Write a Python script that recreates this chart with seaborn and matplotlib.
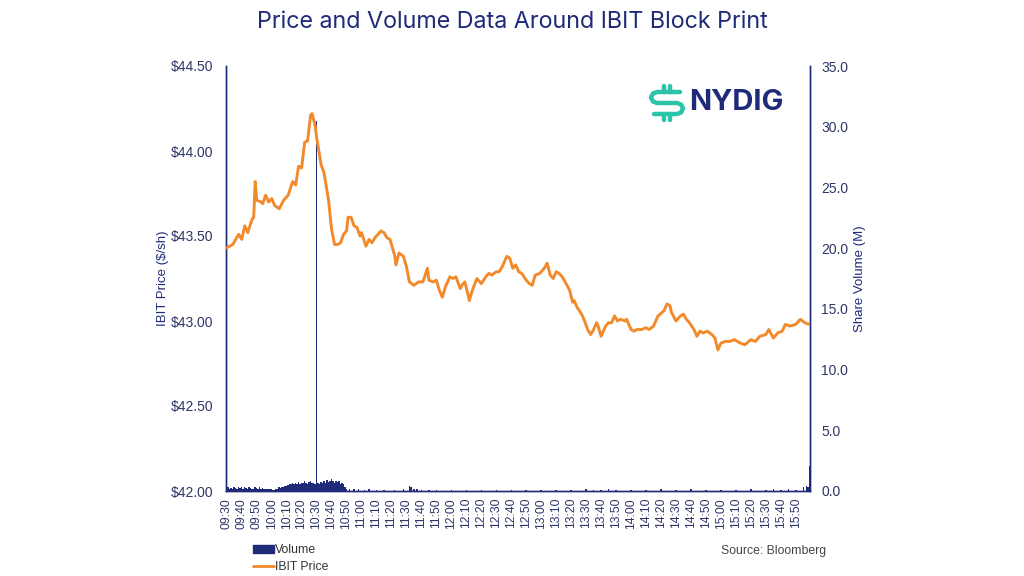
import numpy as np
import pandas as pd
import seaborn as sns
import matplotlib
matplotlib.use("Agg")
import matplotlib.pyplot as plt
from matplotlib.lines import Line2D
from matplotlib.patches import Patch

# ---------------- data ----------------
# minutes after 09:30
price_minutes = [0, 4, 8, 10, 12, 14, 17, 18, 19, 20, 23, 24, 26, 28, 30, 32, 35, 38, 41, 44,
                 46, 48, 50, 52, 54, 56, 57, 59, 60, 63, 65, 68, 70, 72, 74, 76, 78, 80, 81, 83,
                 85, 87, 89, 90, 93, 95, 97, 99, 103, 105, 107, 109, 112, 113, 115, 118, 120, 122, 125, 128,
                 131, 134, 135, 138, 140, 142, 144, 146, 149, 151, 153, 156, 157, 159, 161, 162, 164, 167, 170, 173,
                 175, 177, 180, 182, 184, 187, 189, 191, 193, 195, 197, 200, 202, 204, 206, 209, 212, 214, 216, 218,
                 220, 222, 224, 226, 229, 231, 232, 234, 237, 239, 241, 243, 245, 247, 248, 250, 253, 255, 257, 259,
                 261, 263, 266, 267, 270, 272, 274, 277, 280, 282, 285, 288, 292, 294, 296, 297, 300, 303, 305, 307,
                 309, 312, 314, 316, 318, 321, 324, 326, 328, 330, 333, 336, 339, 343, 346, 350, 353, 356, 360, 362,
                 365, 368, 371, 373, 376, 380, 383, 386, 389]
price_values = [43.43, 43.45, 43.51, 43.48, 43.56, 43.52, 43.60, 43.61, 43.82, 43.71, 43.70, 43.69, 43.74, 43.70, 43.72, 43.68, 43.66, 43.71, 43.74, 43.82,
                43.80, 43.91, 43.90, 44.05, 44.06, 44.21, 44.22, 44.15, 44.08, 43.92, 43.87, 43.71, 43.54, 43.45, 43.45, 43.46, 43.51, 43.53, 43.61, 43.61,
                43.56, 43.55, 43.50, 43.52, 43.44, 43.48, 43.46, 43.49, 43.53, 43.52, 43.49, 43.48, 43.39, 43.33, 43.40, 43.38, 43.32, 43.23, 43.21, 43.23,
                43.23, 43.31, 43.24, 43.23, 43.24, 43.18, 43.14, 43.20, 43.26, 43.25, 43.26, 43.19, 43.21, 43.23, 43.16, 43.12, 43.18, 43.25, 43.22, 43.26,
                43.28, 43.27, 43.29, 43.29, 43.32, 43.38, 43.37, 43.31, 43.33, 43.29, 43.28, 43.24, 43.22, 43.21, 43.27, 43.28, 43.31, 43.34, 43.27, 43.25,
                43.29, 43.28, 43.26, 43.23, 43.18, 43.11, 43.12, 43.08, 43.04, 43.00, 42.95, 42.92, 42.95, 42.99, 42.97, 42.91, 42.97, 42.99, 42.99, 43.03,
                43.00, 43.01, 43.00, 43.01, 42.95, 42.94, 42.95, 42.95, 42.96, 42.95, 42.97, 43.03, 43.06, 43.10, 43.09, 43.05, 43.00, 43.03, 43.04, 43.01,
                42.99, 42.95, 42.91, 42.94, 42.93, 42.94, 42.92, 42.90, 42.83, 42.87, 42.88, 42.88, 42.89, 42.87, 42.86, 42.89, 42.88, 42.91, 42.92, 42.95,
                42.90, 42.93, 42.94, 42.98, 42.97, 42.98, 43.01, 42.99, 42.98]

volume_minutes = list(range(0, 81)) + [82, 85, 88, 92, 95, 100, 105, 112, 118, 122, 123, 125, 127, 130, 135, 140, 150,
                                       160, 170, 180, 190, 200, 210, 220, 230, 240, 245, 250, 255, 260, 270, 280, 290,
                                       300, 310, 320, 330, 340, 350, 360, 365, 370, 375, 380, 385, 387, 388, 389]
volume_values = [1.0, 0.3, 0.2, 0.25, 0.2, 0.3, 0.25, 0.2, 0.3, 0.25, 0.35, 0.2, 0.3, 0.25, 0.2, 0.3, 0.25, 0.2, 0.2, 0.3,
                 0.25, 0.2, 0.3, 0.2, 0.25, 0.2, 0.2, 0.15, 0.2, 0.2, 0.15, 0.1, 0.1, 0.15, 0.15, 0.3, 0.25, 0.35, 0.3, 0.45,
                 0.4, 0.5, 0.55, 0.6, 0.7, 0.55, 0.65, 0.6, 0.75, 0.6, 0.7, 0.65, 0.8, 0.7, 0.6, 0.75, 0.85, 0.7, 0.65, 0.6,
                 30.5, 0.7, 0.6, 0.75, 0.65, 0.8, 0.7, 0.9, 0.75, 0.85, 0.95, 0.8, 0.7, 0.85, 0.75, 0.8, 0.6, 0.65, 0.55, 0.3,
                 0.15,
                 0.2, 0.15, 0.15, 0.1, 0.15, 0.1, 0.1, 0.1, 0.15, 0.4, 0.3, 0.2, 0.15, 0.1, 0.1, 0.1, 0.1,
                 0.1, 0.1, 0.1, 0.1, 0.1, 0.1, 0.1, 0.1, 0.15, 0.1, 0.1, 0.15, 0.1, 0.1, 0.1, 0.15,
                 0.1, 0.15, 0.1, 0.1, 0.1, 0.15, 0.1, 0.15, 0.1, 0.15, 0.1, 0.3, 0.4, 0.35, 2.1]

tick_labels = ["09:30", "09:40", "09:50", "10:00", "10:10", "10:20", "10:30", "10:40", "10:50", "11:00",
               "11:10", "11:20", "11:30", "11:40", "11:50", "12:00", "12:10", "12:20", "12:30", "12:40",
               "12:50", "13:00", "13:10", "13:20", "13:30", "13:40", "13:50", "14:00", "14:10", "14:20",
               "14:30", "14:40", "14:50", "15:00", "15:10", "15:20", "15:30", "15:40", "15:50"]

price_df = pd.DataFrame({"minute": price_minutes, "price": price_values})
vol_df = pd.DataFrame({"minute": volume_minutes, "volume": volume_values})

# ---------------- style ----------------
NAVY = "#1f2a78"
ORANGE = "#f28a2c"
TEXT = "#2e3566"

sns.set_theme(style="white")
plt.rcParams["font.family"] = ["Liberation Sans", "DejaVu Sans"]

fig = plt.figure(figsize=(10.24, 5.76), dpi=100)
ax = fig.add_axes([226 / 1024, 1 - 491 / 576, (810 - 226) / 1024, (491 - 66) / 576])
ax2 = ax.twinx()

# price line on the left axis
sns.lineplot(data=price_df, x="minute", y="price", ax=ax, color=ORANGE, linewidth=2.1, zorder=3)
ax.set_ylim(42.0, 44.5)
ax.set_yticks(np.arange(42.0, 44.51, 0.5))
ax.set_yticklabels([f"${v:.2f}" for v in np.arange(42.0, 44.51, 0.5)])
ax.set_xlim(-0.5, 389.5)
ax.set_xticks(np.arange(0, 390, 10))
ax.set_xticklabels(tick_labels, rotation=90)
ax.set_xlabel("")
ax.set_ylabel("IBIT Price ($/sh)", color=NAVY, fontsize=9.5, labelpad=1)

# volume bars on the right axis
sns.histplot(data=vol_df, x="minute", weights="volume", discrete=True, ax=ax2,
             color=NAVY, alpha=1.0, linewidth=0, zorder=2)
ax2.set_ylim(0, 35)
ax2.set_yticks(np.arange(0, 35.1, 5))
ax2.set_yticklabels([f"{v:.1f}" for v in np.arange(0, 35.1, 5)])
ax2.set_ylabel("Share Volume (M)", color=NAVY, fontsize=9.5, labelpad=4)
ax2.set_xlim(-0.5, 389.5)

# keep price line above bars
ax.set_zorder(ax2.get_zorder() + 1)
ax.patch.set_visible(False)

for a in (ax, ax2):
    a.grid(False)
    a.spines["top"].set_visible(False)
    for s in ("left", "right", "bottom"):
        a.spines[s].set_color(NAVY)
        a.spines[s].set_linewidth(1.0)
    a.tick_params(axis="both", length=0, labelsize=10, colors=TEXT, pad=9)
ax2.tick_params(axis="y", pad=8)
ax.tick_params(axis="x", labelsize=8.8, pad=5)

# title
fig.text(0.5, 1 - 22 / 576, "Price and Volume Data Around IBIT Block Print", ha="center", va="center",
         fontsize=16.8, color=NAVY, family=["Inter", "DejaVu Sans"])

# logo
TEAL = "#2cc4a8"
def px(x, y):
    return x / 1024, 1 - y / 576
path = [(680, 92), (657, 92), (653, 93.5), (651, 97.5), (653, 101.5), (657, 103), (677, 103),
        (681, 104.5), (683, 108.5), (681, 112.5), (677, 114), (654, 114)]
xs, ys = zip(*[px(*p) for p in path])
fig.add_artist(Line2D(xs, ys, color=TEAL, linewidth=3.2, solid_capstyle="round", solid_joinstyle="round"))
for (x0, y0, y1) in [(664, 86, 92), (670, 86, 92), (664, 114, 120), (670, 114, 120)]:
    a0, b0 = px(x0, y0)
    a1, b1 = px(x0, y1)
    fig.add_artist(Line2D([a0, a1], [b0, b1], color=TEAL, linewidth=3.2, solid_capstyle="round"))
fig.text(689 / 1024, 1 - 103 / 576, "NYDIG", ha="left", va="center", fontsize=21, fontweight="bold",
         color=NAVY, family=["Inter", "DejaVu Sans"])

# legend
handles = [Patch(facecolor=NAVY, edgecolor=NAVY), Line2D([0], [0], color=ORANGE, linewidth=2)]
fig.legend(handles, ["Volume", "IBIT Price"], loc="upper left",
           bbox_to_anchor=(253 / 1024, 1 - 544 / 576), frameon=False, fontsize=8.8,
           handlelength=1.7, handleheight=0.6, handletextpad=0.1, labelspacing=0.45,
           labelcolor="#333333", borderaxespad=0, borderpad=0)

fig.text(826 / 1024, 1 - 551 / 576, "Source: Bloomberg", ha="right", va="center", fontsize=8.8, color="#444444")

fig.savefig("out.png", dpi=100, facecolor="white")
